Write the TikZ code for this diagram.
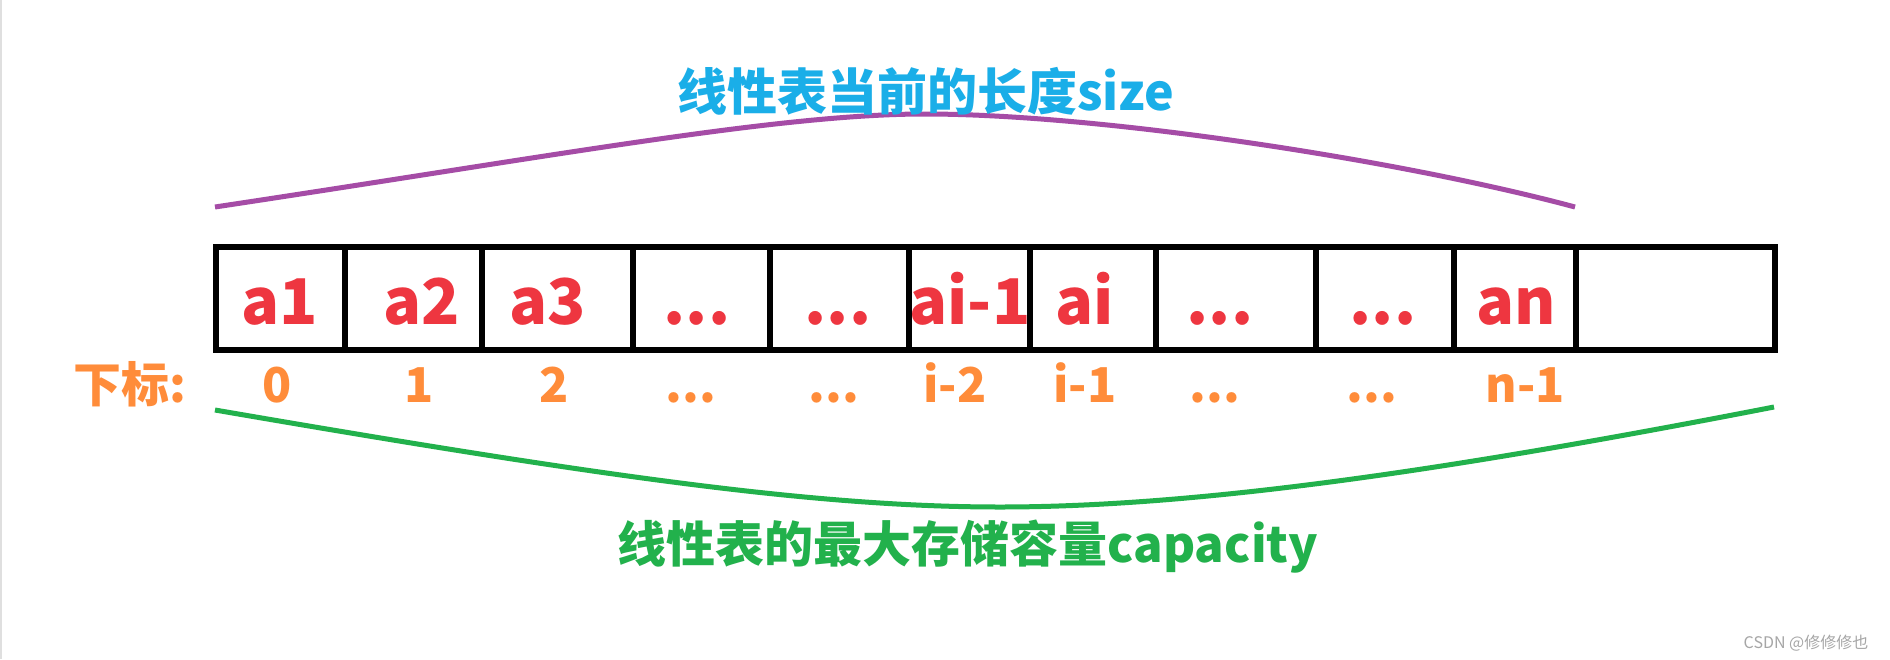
\documentclass[tikz,border=0pt]{standalone}
\usepackage{fontspec}
\setmainfont{Noto Sans CJK SC}
\definecolor{cred}{HTML}{EE3640}
\definecolor{corange}{HTML}{FF8C3A}
\definecolor{cblue}{HTML}{1AAEE8}
\definecolor{cpurple}{HTML}{A54CA6}
\definecolor{cgreen}{HTML}{22B14C}
\newcommand\mydots{...}
\tikzset{
  cellbox/.style={draw=black,line width=5.5pt},
  celltext/.style={anchor=base,text=cred,font=\fontsize{63}{70}\selectfont\bfseries,inner sep=0pt},
  idxtext/.style={anchor=base,text=corange,font=\fontsize{48}{56}\selectfont\bfseries,inner sep=0pt},
  curve/.style={line width=5pt},
}
\begin{document}
\begin{tikzpicture}[x=1pt,y=-1pt]
\useasboundingbox (0,0) rectangle (1890,659);
\fill[white] (0,0) rectangle (1890,659);
\draw[gray!25,line width=1.5pt] (1,0) -- (1,659);
% boxes
\foreach \xa/\xb [count=\i] in {216/345,345/482,482/633,633/770,770/909,909/1030,1030/1156,1156/1316,1316/1454,1454/1576,1576/1775}{
  \draw[cellbox] (\xa,247) rectangle (\xb,350);
}
% cell texts
\foreach \x/\t [count=\i] in {280/a1,422/a2,548/a3,697/\mydots,838/\mydots,970/ai-1,1085/ai,1220/\mydots,1383/\mydots,1516/an}{
  \node[celltext] (c\i) at (\x,324) {\t};
}
% index labels
\node[idxtext] (lbl) at (130,402) {下标:};
\foreach \x/\t [count=\i] in {277/0,419/1,554/2,691/\mydots,834/\mydots,955/i-2,1085/i-1,1215/\mydots,1372/\mydots,1525/n-1}{
  \node[idxtext] (i\i) at (\x,402) {\t};
}
% curves
\coordinate (pl) at (215,207);
\coordinate (pm) at (925,114);
\coordinate (pr) at (1575,207);
\coordinate (gl) at (215,410);
\coordinate (gm) at (1000,507);
\coordinate (gr) at (1774,407);
\draw[curve,cpurple] (pl) .. controls (560,155) and (780,114) .. (pm)
  .. controls (1100,114) and (1400,160) .. (pr);
\draw[curve,cgreen] (gl) .. controls (610,478) and (820,507) .. (gm)
  .. controls (1200,507) and (1450,470) .. (gr);
% titles
\node[anchor=base,text=cblue,font=\fontsize{50}{58}\selectfont\bfseries,inner sep=0pt] (size) at (926,110) {线性表当前的长度size};
\node[anchor=base,text=cgreen,font=\fontsize{49}{57}\selectfont\bfseries,inner sep=0pt] (cap) at (968,562) {线性表的最大存储容量capacity};
% watermark
\node[anchor=base,text=gray!70,font=\fontsize{16}{18}\selectfont,inner sep=0pt] (wm) at (1806,648) {CSDN @修修修也};
\end{tikzpicture}
\end{document}
